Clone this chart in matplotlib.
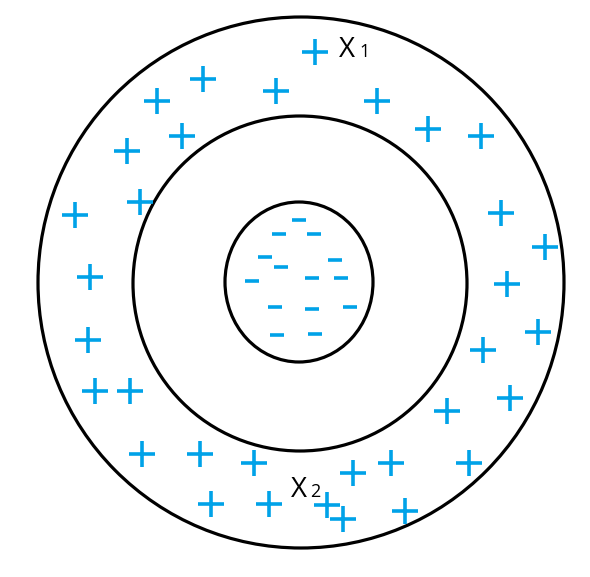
import matplotlib
matplotlib.use('Agg')
import matplotlib.pyplot as plt
from matplotlib.patches import Ellipse

# Pixel coordinates (y grows downward)
PLUS_X = [315, 203, 157, 276, 377, 428, 481, 182, 127, 140, 75, 501, 545, 90,
          507, 538, 88, 483, 95, 130, 510, 447, 142, 200, 254, 353, 391, 469,
          211, 269, 327, 343, 405]
PLUS_Y = [52, 79, 101, 91, 101, 129, 136, 136, 151, 202, 215, 213, 247, 277,
          284, 332, 340, 350, 391, 391, 398, 411, 454, 454, 463, 473, 463, 463,
          504, 504, 505, 519, 511]

MINUS_X = [299, 279, 314, 265, 335, 281, 252, 312, 341, 275, 312, 350, 277, 315]
MINUS_Y = [220, 234, 234, 257, 260, 267, 281, 278, 278, 307, 309, 307, 335, 334]

# boundary ellipses: centre x, centre y, width, height
RING_CX = [301, 300, 299]
RING_CY = [282.5, 283.5, 282]
RING_W = [526, 334, 148]
RING_H = [531, 335, 160]

BLUE = '#00A2E8'

fig = plt.figure(figsize=(5.90, 5.77), dpi=100)
ax = fig.add_axes([0, 0, 1, 1])
ax.set_xlim(0, 590)
ax.set_ylim(577, 0)
ax.axis('off')

for cx, cy, w, h in zip(RING_CX, RING_CY, RING_W, RING_H):
    ax.add_patch(Ellipse((cx, cy), w, h, fill=False, edgecolor='black', linewidth=2.3))

ax.plot(PLUS_X, PLUS_Y, linestyle='none', marker='+', markersize=19,
        markeredgewidth=2.6, color=BLUE)
ax.plot(MINUS_X, MINUS_Y, linestyle='none', marker='_', markersize=10,
        markeredgewidth=2.6, color=BLUE)

# labels
ax.text(339, 57, 'X', fontsize=20, family='Open Sans', ha='left', va='baseline')
ax.text(359, 57, '1', fontsize=13, family='Open Sans', ha='left', va='baseline')
ax.text(291, 497, 'X', fontsize=20, family='Open Sans', ha='left', va='baseline')
ax.text(310, 497, '2', fontsize=13, family='Open Sans', ha='left', va='baseline')

fig.savefig('out.png', dpi=100)
